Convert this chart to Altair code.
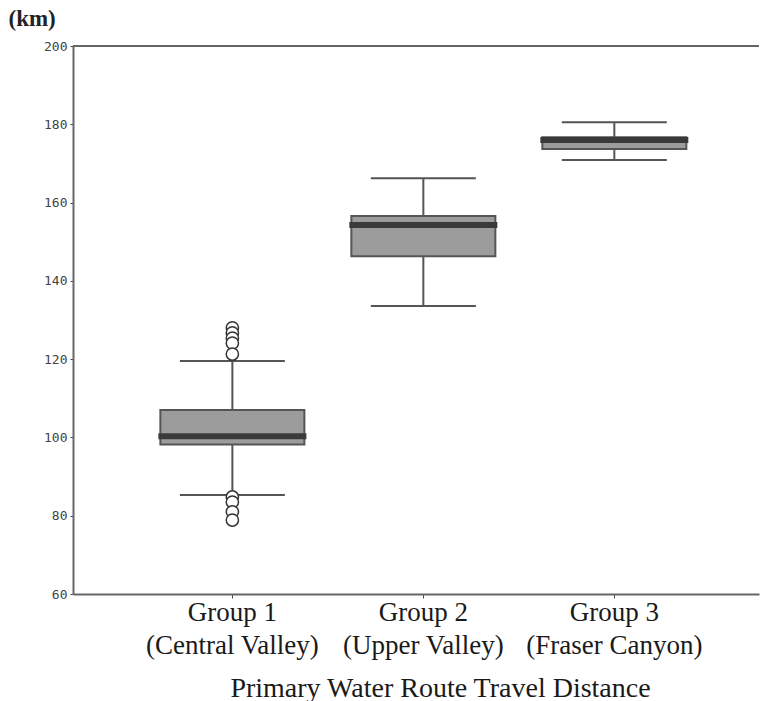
import altair as alt
import pandas as pd

# ---- data ----
groups = ["Group 1", "Group 2", "Group 3"]
regions = ["(Central Valley)", "(Upper Valley)", "(Fraser Canyon)"]
whisker_low = [85.3, 133.6, 170.9]
q1 = [98.2, 146.3, 173.7]
median = [100.3, 154.3, 176.0]
q3 = [107.0, 156.6, 176.7]
whisker_high = [119.5, 166.2, 180.5]

outlier_group = ["Group 1"] * 9
outlier_value = [128.0, 126.7, 125.4, 124.1, 121.3, 84.8, 83.5, 81.0, 78.9]

y_ticks = [60, 80, 100, 120, 140, 160, 180, 200]

cats = [g + "|" + r for g, r in zip(groups, regions)]
box_df = pd.DataFrame({
    "cat": cats, "lo": whisker_low, "q1": q1, "med": median,
    "q3": q3, "hi": whisker_high,
})
cat_map = dict(zip(groups, cats))
out_df = pd.DataFrame({"cat": [cat_map[g] for g in outlier_group],
                       "v": outlier_value})

serif = "Liberation Serif"
line_col = "#555555"

x_enc = alt.X(
    "cat:N", sort=cats,
    scale=alt.Scale(paddingInner=0, paddingOuter=0.296, align=0.565),
    axis=alt.Axis(
        title="Primary Water Route Travel Distance",
        labelExpr="split(datum.label, '|')",
        labelAngle=0, labelFont=serif, labelFontSize=27, labelColor="#1a1a1a",
        labelLineHeight=33, labelPadding=1, tickSize=4, tickColor="#444444",
        titleFont=serif, titleFontSize=28, titleFontWeight="normal",
        titleColor="#1a1a1a", titleX=367, titleY=94, titleBaseline="middle",
    ),
)
y_scale = alt.Scale(domain=[60, 200], nice=False, zero=False)
y_axis = alt.Axis(
    values=y_ticks, title="(km)", titleAngle=0, titleX=-65, titleY=-28,
    titleAlign="left", titleBaseline="middle", titleFont=serif,
    titleFontSize=23, titleFontWeight="bold", titleColor="#222222",
    labelFont="DejaVu Sans Mono", labelFontSize=13, labelColor="#444444",
    tickSize=3, tickColor="#444444", labelPadding=3,
)

base = alt.Chart(box_df)

whisk_hi = base.mark_rule(color=line_col, strokeWidth=2, opacity=1).encode(
    x=x_enc, y=alt.Y("q3:Q", scale=y_scale, axis=y_axis), y2="hi:Q")
whisk_lo = base.mark_rule(color=line_col, strokeWidth=2, opacity=1).encode(
    x=x_enc, y=alt.Y("lo:Q", scale=y_scale, axis=y_axis), y2="q1:Q")
cap_hi = base.mark_tick(size=105, thickness=2, color=line_col, opacity=1).encode(
    x=x_enc, y=alt.Y("hi:Q", scale=y_scale, axis=y_axis))
cap_lo = base.mark_tick(size=105, thickness=2, color=line_col, opacity=1).encode(
    x=x_enc, y=alt.Y("lo:Q", scale=y_scale, axis=y_axis))
box = base.mark_bar(size=144, color="#9c9c9c", stroke=line_col,
                    strokeWidth=2, opacity=1).encode(
    x=x_enc, y=alt.Y("q1:Q", scale=y_scale, axis=y_axis), y2="q3:Q")
med = base.mark_tick(size=148, thickness=6, color="#3a3a3a", opacity=1).encode(
    x=x_enc, y=alt.Y("med:Q", scale=y_scale, axis=y_axis))

outl = alt.Chart(out_df).mark_circle(
    size=150, color="white", opacity=1, stroke="#333333", strokeWidth=1.5
).encode(x=x_enc, y=alt.Y("v:Q", scale=y_scale, axis=y_axis))

top_line = alt.Chart(pd.DataFrame({"a": [0]})).mark_rule(
    color="#666666", strokeWidth=2).encode(y=alt.datum(200))

chart = alt.layer(
    whisk_hi, whisk_lo, cap_hi, cap_lo, box, med, outl, top_line
).properties(
    width=686, height=548,
    autosize=alt.AutoSizeParams(type="none"),
    padding={"left": 73, "top": 46, "right": 1, "bottom": 107},
    background="white",
).configure_view(stroke=None).configure_axis(
    grid=False, domainColor="#666666", domainWidth=2
)

chart.save("out.html", embed_options={"renderer": "svg", "actions": False})
